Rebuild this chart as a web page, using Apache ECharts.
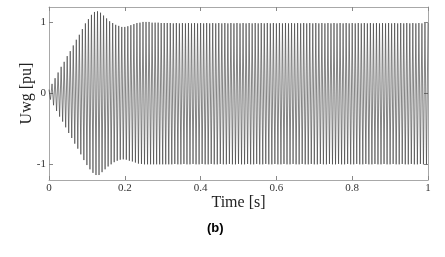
<!DOCTYPE html>
<html>
<head>
<meta charset="utf-8">
<script src="https://cdn.jsdelivr.net/npm/echarts@6/dist/echarts.min.js"></script>
<style>html,body{margin:0;padding:0;background:#fff;}#c{width:445px;height:257px;}</style>
</head>
<body>
<div id="c"></div>
<script>
// Peak times (s) of the oscillating voltage
var times = [
  0, 0.004, 0.008, 0.012, 0.016, 0.02, 0.024, 0.028, 0.032, 0.036,
  0.04, 0.044, 0.048, 0.052, 0.056, 0.06, 0.064, 0.068, 0.072, 0.076,
  0.08, 0.084, 0.088, 0.092, 0.096, 0.1, 0.104, 0.108, 0.112, 0.116,
  0.12, 0.124, 0.128, 0.132, 0.136, 0.14, 0.144, 0.148, 0.152, 0.156,
  0.16, 0.164, 0.168, 0.172, 0.176, 0.18, 0.184, 0.188, 0.192, 0.196,
  0.2, 0.204, 0.208, 0.212, 0.216, 0.22, 0.224, 0.228, 0.232, 0.236,
  0.24, 0.244, 0.248, 0.252, 0.256, 0.26, 0.264, 0.268, 0.272, 0.276,
  0.28, 0.284, 0.288, 0.292, 0.296, 0.3, 0.304, 0.308, 0.312, 0.316,
  0.32, 0.324, 0.328, 0.332, 0.336, 0.34, 0.344, 0.348, 0.352, 0.356,
  0.36, 0.364, 0.368, 0.372, 0.376, 0.38, 0.384, 0.388, 0.392, 0.396,
  0.4, 0.404, 0.408, 0.412, 0.416, 0.42, 0.424, 0.428, 0.432, 0.436,
  0.44, 0.444, 0.448, 0.452, 0.456, 0.46, 0.464, 0.468, 0.472, 0.476,
  0.48, 0.484, 0.488, 0.492, 0.496, 0.5, 0.504, 0.508, 0.512, 0.516,
  0.52, 0.524, 0.528, 0.532, 0.536, 0.54, 0.544, 0.548, 0.552, 0.556,
  0.56, 0.564, 0.568, 0.572, 0.576, 0.58, 0.584, 0.588, 0.592, 0.596,
  0.6, 0.604, 0.608, 0.612, 0.616, 0.62, 0.624, 0.628, 0.632, 0.636,
  0.64, 0.644, 0.648, 0.652, 0.656, 0.66, 0.664, 0.668, 0.672, 0.676,
  0.68, 0.684, 0.688, 0.692, 0.696, 0.7, 0.704, 0.708, 0.712, 0.716,
  0.72, 0.724, 0.728, 0.732, 0.736, 0.74, 0.744, 0.748, 0.752, 0.756,
  0.76, 0.764, 0.768, 0.772, 0.776, 0.78, 0.784, 0.788, 0.792, 0.796,
  0.8, 0.804, 0.808, 0.812, 0.816, 0.82, 0.824, 0.828, 0.832, 0.836,
  0.84, 0.844, 0.848, 0.852, 0.856, 0.86, 0.864, 0.868, 0.872, 0.876,
  0.88, 0.884, 0.888, 0.892, 0.896, 0.9, 0.904, 0.908, 0.912, 0.916,
  0.92, 0.924, 0.928, 0.932, 0.936, 0.94, 0.944, 0.948, 0.952, 0.956,
  0.96, 0.964, 0.968, 0.972, 0.976, 0.98, 0.984, 0.988, 0.992, 0.996,
  1.0
];
// Uwg peak values (pu)
var uwg = [
  0.05, -0.09, 0.13, -0.17, 0.21, -0.25, 0.29, -0.33, 0.37, -0.40,
  0.44, -0.48, 0.52, -0.56, 0.59, -0.63, 0.67, -0.71, 0.75, -0.78,
  0.82, -0.86, 0.90, -0.94, 0.98, -1.01, 1.04, -1.07, 1.10, -1.12,
  1.14, -1.15, 1.15, -1.15, 1.13, -1.11, 1.09, -1.07, 1.05, -1.03,
  1.01, -1.0, 0.985, -0.97, 0.96, -0.95, 0.945, -0.935, 0.93, -0.93,
  0.93, -0.935, 0.94, -0.95, 0.955, -0.96, 0.97, -0.975, 0.985, -0.99,
  0.99, -0.995, 1.0, -1.0, 1.0, -1.0, 1.0, -1.0, 0.99, -1.0,
  0.99, -1.0, 0.99, -1.0, 0.985, -1.0, 0.985, -1.0, 0.985, -1.0,
  0.985, -1.0, 0.98, -0.995, 0.985, -1.0, 0.98, -1.0, 0.985, -0.995,
  0.98, -1.0, 0.985, -1.0, 0.98, -0.995, 0.985, -1.0, 0.98, -1.0,
  0.985, -0.995, 0.98, -1.0, 0.985, -1.0, 0.98, -0.995, 0.985, -1.0,
  0.98, -1.0, 0.985, -0.995, 0.98, -1.0, 0.985, -1.0, 0.98, -0.995,
  0.985, -1.0, 0.98, -1.0, 0.985, -0.995, 0.98, -1.0, 0.985, -1.0,
  0.98, -0.995, 0.985, -1.0, 0.98, -1.0, 0.985, -0.995, 0.98, -1.0,
  0.985, -1.0, 0.98, -0.995, 0.985, -1.0, 0.98, -1.0, 0.985, -0.995,
  0.98, -1.0, 0.985, -1.0, 0.98, -0.995, 0.985, -1.0, 0.98, -1.0,
  0.985, -0.995, 0.98, -1.0, 0.985, -1.0, 0.98, -0.995, 0.985, -1.0,
  0.98, -1.0, 0.985, -0.995, 0.98, -1.0, 0.985, -1.0, 0.98, -0.995,
  0.985, -1.0, 0.98, -1.0, 0.985, -0.995, 0.98, -1.0, 0.985, -1.0,
  0.98, -0.995, 0.985, -1.0, 0.98, -1.0, 0.985, -0.995, 0.98, -1.0,
  0.985, -1.0, 0.98, -0.995, 0.985, -1.0, 0.98, -1.0, 0.985, -0.995,
  0.98, -1.0, 0.985, -1.0, 0.98, -0.995, 0.985, -1.0, 0.98, -1.0,
  0.985, -0.995, 0.98, -1.0, 0.985, -1.0, 0.98, -0.995, 0.985, -1.0,
  0.98, -1.0, 0.985, -0.995, 0.98, -1.0, 0.985, -1.0, 0.98, -0.995,
  0.985, -1.0, 0.98, -1.0, 0.985, -0.995, 0.98, -1.0, 0.985, -1.0,
  0.985
];
var xTicks = [0, 0.2, 0.4, 0.6, 0.8, 1];
var yTicks = [-1, 0, 1];

var data = times.map(function (t, i) { return [t, uwg[i]]; });
var serif = 'Liberation Serif';
var frame = '#a8a8a8';

var chart = echarts.init(document.getElementById('c'), null, {renderer: 'canvas'});
chart.setOption({
  animation: false,
  grid: {left: 49, right: 17, top: 7, bottom: 77, containLabel: false},
  xAxis: [{
    type: 'value', min: 0, max: 1, interval: 0.2,
    axisLine: {show: true, onZero: false, lineStyle: {color: frame, width: 1}},
    axisTick: {show: true, inside: true, length: 4, lineStyle: {color: '#888'}, customValues: xTicks},
    axisLabel: {show: true, margin: 3, fontFamily: serif, fontSize: 11, color: '#333', customValues: xTicks,
      formatter: function (v) { return String(Math.round(v * 10) / 10); }},
    splitLine: {show: false},
    name: 'Time [s]', nameLocation: 'middle', nameGap: 15, nameMoveOverlap: false,
    nameTextStyle: {fontFamily: serif, fontSize: 16, color: '#222', verticalAlign: 'top'}
  }, {
    type: 'value', min: 0, max: 1, position: 'top',
    axisLine: {show: true, onZero: false, lineStyle: {color: frame, width: 1}},
    axisTick: {show: true, inside: true, length: 4, lineStyle: {color: '#888'}, customValues: xTicks},
    axisLabel: {show: false}, splitLine: {show: false}
  }],
  yAxis: [{
    type: 'value', min: -1.22, max: 1.21,
    axisLine: {show: true, onZero: false, lineStyle: {color: frame, width: 1}},
    axisTick: {show: true, inside: true, length: 4, lineStyle: {color: '#888'}, customValues: yTicks},
    axisLabel: {show: true, margin: 3, fontFamily: serif, fontSize: 11, color: '#333', customValues: yTicks},
    splitLine: {show: false},
    name: 'Uwg [pu]', nameLocation: 'middle', nameGap: 14, nameMoveOverlap: false,
    nameTextStyle: {fontFamily: serif, fontSize: 16, color: '#222'}
  }, {
    type: 'value', min: -1.22, max: 1.21, position: 'right',
    axisLine: {show: true, onZero: false, lineStyle: {color: frame, width: 1}},
    axisTick: {show: true, inside: true, length: 4, lineStyle: {color: '#888'}, customValues: yTicks},
    axisLabel: {show: false}, splitLine: {show: false}
  }],
  graphic: [{
    type: 'text', left: 207, top: 222,
    style: {text: '(b)', font: 'bold 13px "Liberation Sans", Arial, sans-serif', fill: '#000'}
  }],
  series: [{
    type: 'line', xAxisIndex: 0, yAxisIndex: 0, data: data,
    showSymbol: false, symbol: 'none', smooth: false,
    lineStyle: {color: '#333', width: 0.6}
  }]
});
</script>
</body>
</html>
